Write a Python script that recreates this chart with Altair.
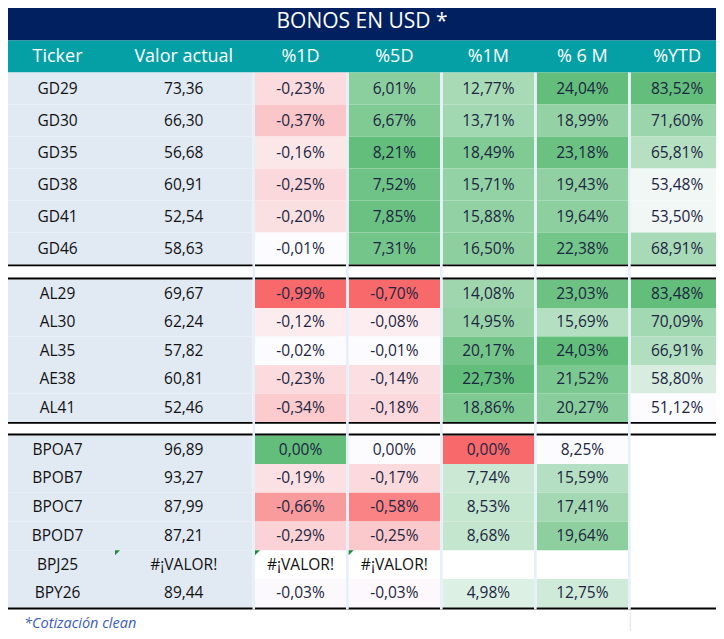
import altair as alt
import pandas as pd

# ---------------- data ----------------
title_text = "BONOS EN USD *"
header_labels = ["Ticker", "Valor actual", "%1D", "%5D", "%1M", "% 6 M", "%YTD"]
footnote_text = "*Cotización clean"
error_text = "#¡VALOR!"

tickers = ["GD29", "GD30", "GD35", "GD38", "GD41", "GD46",
           "AL29", "AL30", "AL35", "AE38", "AL41",
           "BPOA7", "BPOB7", "BPOC7", "BPOD7", "BPJ25", "BPY26"]
block_sizes = [6, 5, 6]
valor_actual = [73.36, 66.30, 56.68, 60.91, 52.54, 58.63,
                69.67, 62.24, 57.82, 60.81, 52.46,
                96.89, 93.27, 87.99, 87.21, None, 89.44]
chg_1d = [-0.23, -0.37, -0.16, -0.25, -0.20, -0.01,
          -0.99, -0.12, -0.02, -0.23, -0.34,
          0.00, -0.19, -0.66, -0.29, None, -0.03]
chg_5d = [6.01, 6.67, 8.21, 7.52, 7.85, 7.31,
          -0.70, -0.08, -0.01, -0.14, -0.18,
          0.00, -0.17, -0.58, -0.25, None, -0.03]
chg_1m = [12.77, 13.71, 18.49, 15.71, 15.88, 16.50,
          14.08, 14.95, 20.17, 22.73, 18.86,
          0.00, 7.74, 8.53, 8.68, None, 4.98]
chg_6m = [24.04, 18.99, 23.18, 19.43, 19.64, 22.38,
          23.03, 15.69, 24.03, 21.52, 20.27,
          8.25, 15.59, 17.41, 19.64, None, 12.75]
chg_ytd = [83.52, 71.60, 65.81, 53.48, 53.50, 68.91,
           83.48, 70.09, 66.91, 58.80, 51.12,
           None, None, None, None, None, None]
error_cells = [("BPJ25", "Valor actual"), ("BPJ25", "%1D"), ("BPJ25", "%5D")]

# colour-scale midpoints per column (None = two-colour scale starting at the minimum)
scale_mid = {"%1D": -0.01, "%5D": -0.01, "%1M": 0.5, "% 6 M": None, "%YTD": None}

# ---------------- layout (reference pixels) ----------------
PAGE_W, PAGE_H, MARGIN = 724, 639, 8
title_band = (0, 40.5)
header_band = (40.5, 72.5)
block_tops = [72.5, 279.4, 435.4]
block_row_h = [32.0, 28.5, 28.7]
col_edges = [(0, 115), (115, 252.5), (255, 346), (348.7, 440),
             (442.7, 534), (536.7, 628), (630.7, 723.5)]
gap_edges = [(252.5, 255), (346, 348.7), (440, 442.7), (534, 536.7), (628, 630.7)]
rule_bands = [(264.5, 266.3), (277.6, 279.4), (422.0, 423.8), (433.6, 435.4), (607.6, 609.4)]
table_bottom = 609.4

NAVY = "#00205f"
TEAL = "#05a0a6"
LEFT_BG = "#e1e9f3"
GAP_BG = "#e6f0fa"
TXT_DARK = "#1c2541"
FONT = "Open Sans"

# row geometry
row_tops, row_bots = [], []
for top, h, n in zip(block_tops, block_row_h, block_sizes):
    for i in range(n):
        row_tops.append(top + i * h)
        row_bots.append(top + (i + 1) * h)

series = {"%1D": chg_1d, "%5D": chg_5d, "%1M": chg_1m, "% 6 M": chg_6m, "%YTD": chg_ytd}


def fmt(v, pct):
    s = f"{v:.2f}".replace(".", ",")
    return s + "%" if pct else s


def tone(v, col):
    vals = [x for x in series[col] if x is not None]
    lo, hi = min(vals), max(vals)
    mid = scale_mid[col]
    if mid is None:
        mid = lo
    if v >= mid:
        return 0.0 if hi == mid else min(1.0, (v - mid) / (hi - mid))
    return -min(1.0, (mid - v) / (mid - lo))


errs = set(error_cells)
bg_rows, scaled_rows, text_rows, tri_rows = [], [], [], []

for r, tk in enumerate(tickers):
    y0, y1 = row_tops[r], row_bots[r]
    yc = (y0 + y1) / 2
    # ticker & valor columns
    for ci in (0, 1):
        x0, x1 = col_edges[ci]
        bg_rows.append(dict(x=x0, x2=x1, y=y0, y2=y1, c=LEFT_BG))
    text_rows.append(dict(xc=sum(col_edges[0]) / 2, yc=yc, label=tk, tc="#111111"))
    if (tk, "Valor actual") in errs:
        lab = error_text
        tri_rows.append(dict(x=col_edges[1][0], y=y0))
    else:
        lab = fmt(valor_actual[r], False)
    text_rows.append(dict(xc=sum(col_edges[1]) / 2, yc=yc, label=lab, tc="#111111"))
    # change columns
    for j, col in enumerate(header_labels[2:]):
        x0, x1 = col_edges[j + 2]
        v = series[col][r]
        if (tk, col) in errs:
            bg_rows.append(dict(x=x0, x2=x1, y=y0, y2=y1, c="#ffffff"))
            text_rows.append(dict(xc=(x0 + x1) / 2, yc=yc, label=error_text, tc="#111111"))
            tri_rows.append(dict(x=x0, y=y0))
        elif v is None:
            bg_rows.append(dict(x=x0, x2=x1, y=y0, y2=y1, c="#ffffff"))
        else:
            scaled_rows.append(dict(x=x0, x2=x1, y=y0, y2=y1, t=tone(v, col)))
            text_rows.append(dict(xc=(x0 + x1) / 2, yc=yc, label=fmt(v, True), tc=TXT_DARK))

bands = [dict(x=0, x2=PAGE_W, y=title_band[0], y2=title_band[1], c=NAVY),
         dict(x=0, x2=PAGE_W, y=header_band[0], y2=header_band[1], c=TEAL)]
bg_df = pd.DataFrame(bands + bg_rows)
scaled_df = pd.DataFrame(scaled_rows)

overlay = [dict(x=0, x2=PAGE_W, y=a, y2=b, c="#000000") for a, b in rule_bands]
overlay += [dict(x=a, x2=b, y=header_band[1], y2=table_bottom, c=GAP_BG) for a, b in gap_edges]
overlay += [dict(x=721.7, x2=724, y=rule_bands[3][0], y2=table_bottom, c="#000000"),
            dict(x=629.8, x2=630.6, y=table_bottom, y2=638, c="#d9d9d9"),
            dict(x=630, x2=724, y=637.5, y2=638.5, c="#d9d9d9")]
overlay_df = pd.DataFrame(overlay)

head_df = pd.DataFrame(
    [dict(xc=sum(col_edges[i]) / 2, yc=sum(header_band) / 2, label=h) for i, h in enumerate(header_labels)])
title_df = pd.DataFrame([dict(xc=PAGE_W / 2, yc=21.5, label=title_text)])
text_df = pd.DataFrame(text_rows)
tri_df = pd.DataFrame(tri_rows)
foot_df = pd.DataFrame([dict(xc=24, yc=624, label=footnote_text)])

# ---------------- chart ----------------
xs = alt.Scale(domain=[MARGIN, PAGE_W - MARGIN], nice=False, zero=False)
ys = alt.Scale(domain=[MARGIN, PAGE_H - MARGIN], reverse=True, nice=False, zero=False)


def rect_enc():
    return dict(x=alt.X("x:Q", scale=xs, axis=None), x2="x2:Q",
                y=alt.Y("y:Q", scale=ys, axis=None), y2="y2:Q")


def text_enc():
    return dict(x=alt.X("xc:Q", scale=xs, axis=None),
                y=alt.Y("yc:Q", scale=ys, axis=None), text="label:N")


bg = alt.Chart(bg_df).mark_rect(clip=True).encode(fill=alt.Fill("c:N", scale=None), **rect_enc())
cells = alt.Chart(scaled_df).mark_rect(clip=True).encode(
    color=alt.Color("t:Q", legend=None,
                    scale=alt.Scale(domain=[-1, 0, 1], range=["#f8696b", "#fcfcff", "#63be7b"],
                                    interpolate="rgb")),
    **rect_enc())
over = alt.Chart(overlay_df).mark_rect(clip=True).encode(fill=alt.Fill("c:N", scale=None), **rect_enc())

title = alt.Chart(title_df).mark_text(font=FONT, fontSize=21, color="white",
                                      align="center", baseline="middle").encode(**text_enc())
heads = alt.Chart(head_df).mark_text(font=FONT, fontSize=18, color="white",
                                     align="center", baseline="middle").encode(**text_enc())
body = alt.Chart(text_df).mark_text(font=FONT, fontSize=15.5, align="center", baseline="middle").encode(
    fill=alt.Fill("tc:N", scale=None), **text_enc())
tris = alt.Chart(tri_df).mark_point(shape="M-1,-1L1,-1L-1,1Z", filled=True, size=25, opacity=1,
                                    color="#1f8c3b", strokeWidth=0, xOffset=2.5, yOffset=2.5).encode(
    x=alt.X("x:Q", scale=xs, axis=None), y=alt.Y("y:Q", scale=ys, axis=None))
foot = alt.Chart(foot_df).mark_text(font=FONT, fontSize=14.5, fontStyle="italic", color="#3b5cb8",
                                    align="left", baseline="middle").encode(**text_enc())

chart = alt.layer(bg, cells, over, title, heads, body, tris, foot).properties(
    width=PAGE_W - 2 * MARGIN, height=PAGE_H - 2 * MARGIN,
    padding=0, autosize=alt.AutoSizeParams(type="none"),
).configure_view(strokeWidth=0)

chart.save("out.html", embed_options={"renderer": "svg", "actions": False})
